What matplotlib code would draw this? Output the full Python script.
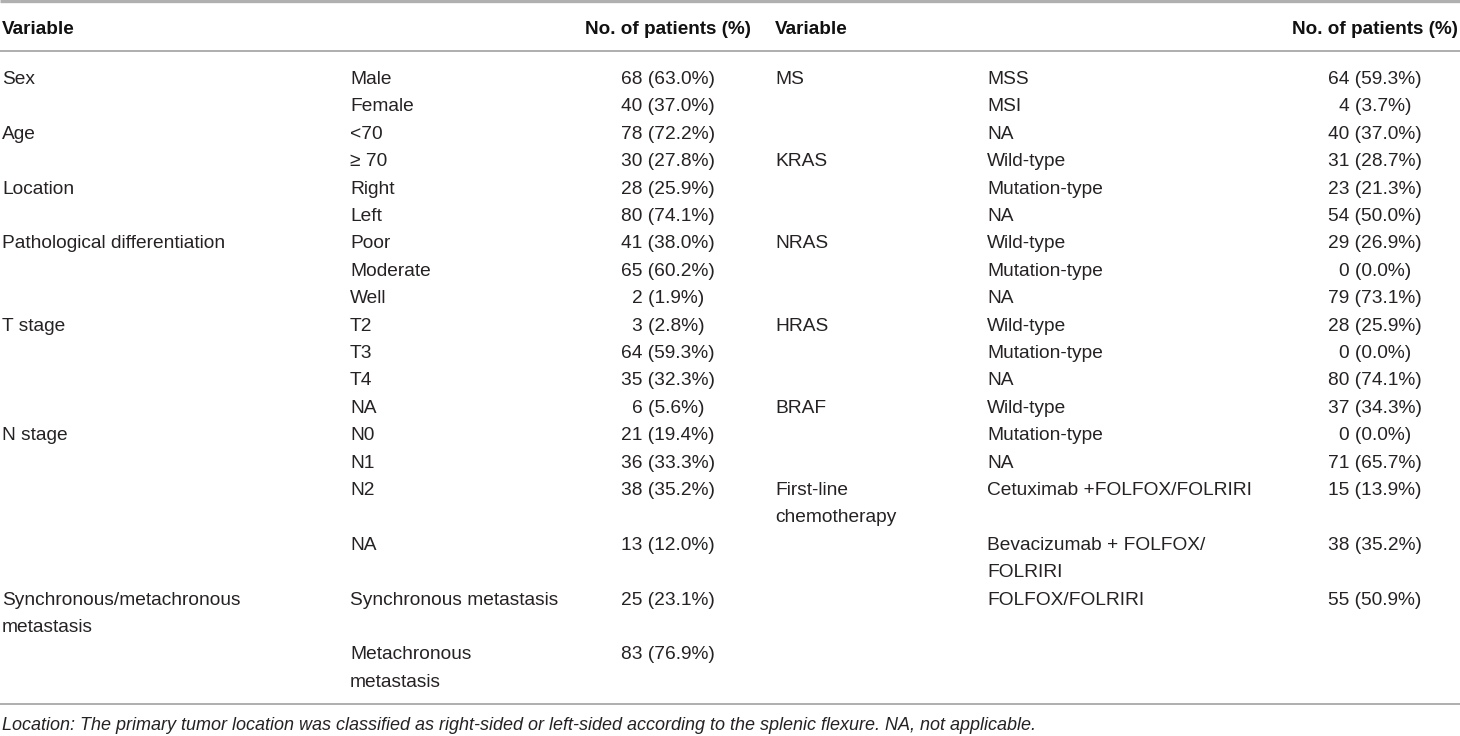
import matplotlib
matplotlib.use("Agg")
import matplotlib.pyplot as plt

# left half of the table
left_vars = ["Sex", "Age", "Location", "Pathological differentiation", "T stage",
             "N stage", "Synchronous/metachronous\nmetastasis"]
left_levels = [
    ["Male", "Female"],
    ["<70", "\u2265 70"],
    ["Right", "Left"],
    ["Poor", "Moderate", "Well"],
    ["T2", "T3", "T4", "NA"],
    ["N0", "N1", "N2", "NA"],
    ["Synchronous metastasis", "Metachronous\nmetastasis"],
]
left_counts = [
    ["68 (63.0%)", "40 (37.0%)"],
    ["78 (72.2%)", "30 (27.8%)"],
    ["28 (25.9%)", "80 (74.1%)"],
    ["41 (38.0%)", "65 (60.2%)", "2 (1.9%)"],
    ["3 (2.8%)", "64 (59.3%)", "35 (32.3%)", "6 (5.6%)"],
    ["21 (19.4%)", "36 (33.3%)", "38 (35.2%)", "13 (12.0%)"],
    ["25 (23.1%)", "83 (76.9%)"],
]

# right half of the table
right_vars = ["MS", "KRAS", "NRAS", "HRAS", "BRAF", "First-line\nchemotherapy"]
right_levels = [
    ["MSS", "MSI", "NA"],
    ["Wild-type", "Mutation-type", "NA"],
    ["Wild-type", "Mutation-type", "NA"],
    ["Wild-type", "Mutation-type", "NA"],
    ["Wild-type", "Mutation-type", "NA"],
    ["Cetuximab +FOLFOX/FOLRIRI", "Bevacizumab + FOLFOX/\nFOLRIRI", "FOLFOX/FOLRIRI"],
]
right_counts = [
    ["64 (59.3%)", "4 (3.7%)", "40 (37.0%)"],
    ["31 (28.7%)", "23 (21.3%)", "54 (50.0%)"],
    ["29 (26.9%)", "0 (0.0%)", "79 (73.1%)"],
    ["28 (25.9%)", "0 (0.0%)", "80 (74.1%)"],
    ["37 (34.3%)", "0 (0.0%)", "71 (65.7%)"],
    ["15 (13.9%)", "38 (35.2%)", "55 (50.9%)"],
]

headers = ["Variable", "No. of patients (%)"]
footnote = ("Location: The primary tumor location was classified as right-sided or "
            "left-sided according to the splenic flexure. NA, not applicable.")


def flatten(variables, levels, counts):
    # one entry per table row: (variable label or '', level, count)
    rows = []
    for var, levs, cnts in zip(variables, levels, counts):
        for i, (lev, cnt) in enumerate(zip(levs, cnts)):
            rows.append((var if i == 0 else "", lev, cnt))
    return rows


left_rows = flatten(left_vars, left_levels, left_counts)
right_rows = flatten(right_vars, right_levels, right_counts)
n_rows = max(len(left_rows), len(right_rows))


def n_lines(row):
    if row is None:
        return 1
    return max(len(row[0].split("\n")), len(row[1].split("\n")))


# layout (pixels)
W, H = 1460, 736
pitch = 27.4
first_y = 77
base_off = 7
body_fs = 13.8
txt_col = "#262223"
line_col = "#a8a8a8"

fig = plt.figure(figsize=(W / 100, H / 100), dpi=100)
ax = fig.add_axes([0, 0, 1, 1])
ax.set_xlim(0, W)
ax.set_ylim(H, 0)
ax.axis("off")

halves = [
    (left_rows, 2, 350, 668),
    (right_rows, 775, 987, 1375),
]

# row start positions in line slots
slots = []
s = 0
for r in range(n_rows):
    slots.append(s)
    lr = left_rows[r] if r < len(left_rows) else None
    rr = right_rows[r] if r < len(right_rows) else None
    s += max(n_lines(lr), n_lines(rr))
total_slots = s

font = ["Liberation Sans", "DejaVu Sans"]

for rows, x_var, x_lev, x_cnt in halves:
    ax.text(x_var, 27 + base_off, headers[0], fontsize=13.6, fontweight="bold",
            color="#111111", family=font, va="baseline", ha="left")
    ax.text(x_cnt, 27 + base_off, headers[1], fontsize=13.6, fontweight="bold",
            color="#111111", family=font, va="baseline", ha="center")
    for r, (var, lev, cnt) in enumerate(rows):
        y0 = first_y + slots[r] * pitch
        for k, part in enumerate(var.split("\n")):
            if part:
                ax.text(x_var, y0 + k * pitch + base_off, part, fontsize=body_fs,
                        color=txt_col, family=font, va="baseline", ha="left")
        for k, part in enumerate(lev.split("\n")):
            ax.text(x_lev, y0 + k * pitch + base_off, part, fontsize=body_fs,
                    color=txt_col, family=font, va="baseline", ha="left")
        ax.text(x_cnt, y0 + base_off, cnt, fontsize=body_fs,
                color=txt_col, family=font, va="baseline", ha="center")

# rules
ax.plot([0, W], [1.2, 1.2], color="#b0b0b0", lw=2.4, solid_capstyle="butt")
ax.plot([0, W], [51, 51], color=line_col, lw=1.3)
bottom_y = first_y + (total_slots - 1) * pitch + 24
ax.plot([0, W], [bottom_y, bottom_y], color=line_col, lw=1.3)

ax.text(2, bottom_y + 20 + 6, footnote, fontsize=13.0, style="italic",
        color=txt_col, family=font, va="baseline", ha="left")

fig.savefig("out.png", dpi=100, facecolor="white")
